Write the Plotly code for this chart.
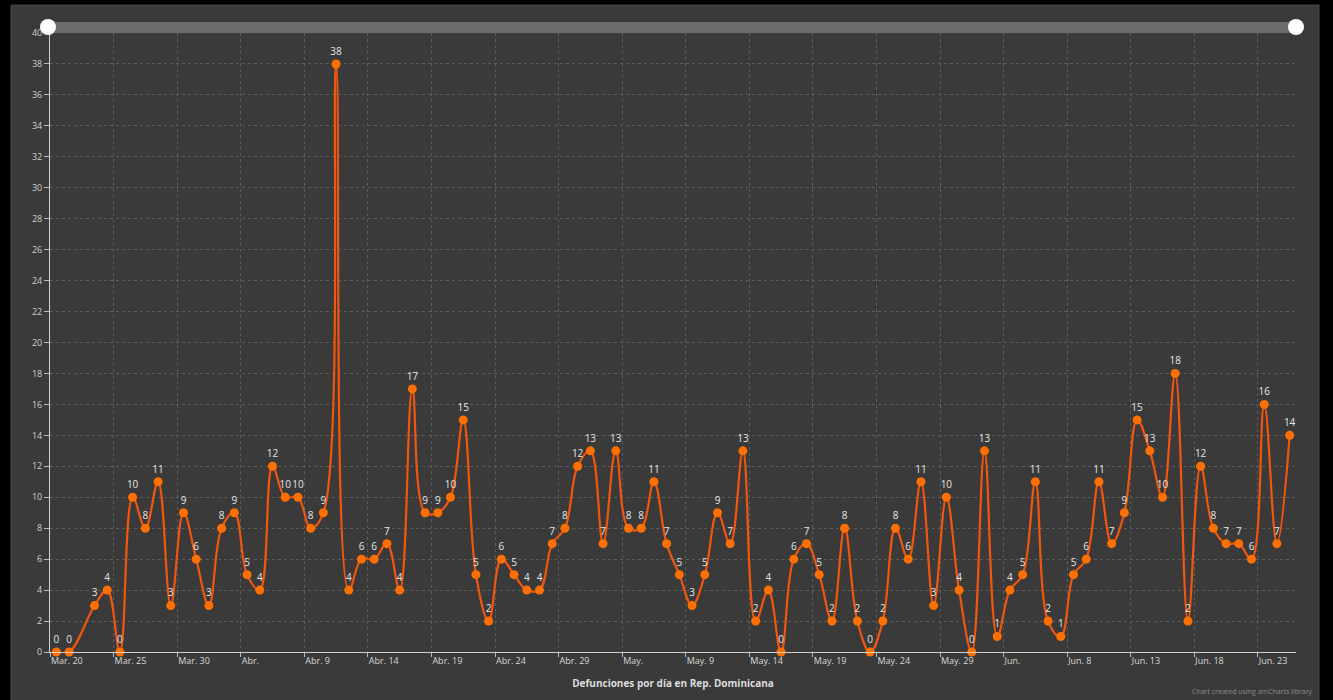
import pandas as pd
import plotly.graph_objects as go

# ---- data ----
start_date = "2020-03-20"
end_date = "2020-06-25"
missing_dates = ["2020-03-22"]
dates = [d for d in pd.date_range(start_date, end_date) if d.strftime("%Y-%m-%d") not in missing_dates]

deaths = [
    0, 0, 3, 4, 0, 10, 8, 11, 3, 9, 6, 3,            # Mar 20-31 (no Mar 22)
    8, 9, 5, 4, 12, 10, 10, 8, 9, 38,                # Apr 1-11
    4, 6, 6, 7, 4, 17, 9, 9, 10, 15,                 # Apr 12-21
    5, 2, 6, 5, 4, 4, 7, 8, 12,                      # Apr 22-30
    13, 7, 13, 8, 8, 11, 7, 5, 3, 5,                 # May 1-10
    9, 7, 13, 2, 4, 0, 6, 7, 5, 2,                   # May 11-20
    8, 2, 0, 2, 8, 6, 11, 3, 10, 4, 0,               # May 21-31
    13, 1, 4, 5, 11, 2, 1, 5, 6, 11,                 # Jun 1-10
    7, 9, 15, 13, 10, 18, 2, 12, 8, 7,               # Jun 11-20
    7, 6, 16, 7, 14,                                 # Jun 21-25
]

tick_dates = ["2020-03-20", "2020-03-25", "2020-03-30", "2020-04-04", "2020-04-09",
              "2020-04-14", "2020-04-19", "2020-04-24", "2020-04-29", "2020-05-04",
              "2020-05-09", "2020-05-14", "2020-05-19", "2020-05-24", "2020-05-29",
              "2020-06-03", "2020-06-08", "2020-06-13", "2020-06-18", "2020-06-23"]
tick_labels = ["Mar. 20", "Mar. 25", "Mar. 30", "Abr.", "Abr. 9",
               "Abr. 14", "Abr. 19", "Abr. 24", "Abr. 29", "May.",
               "May. 9", "May. 14", "May. 19", "May. 24", "May. 29",
               "Jun.", "Jun. 8", "Jun. 13", "Jun. 18", "Jun. 23"]

y_ticks = list(range(0, 41, 2))
x_title = "Defunciones por día en Rep. Dominicana"

# ---- layout geometry (pixels) ----
W, H = 1333, 700
L, R, T, B = 50, 1296, 33, 654
pw, ph = R - L, B - T


def px(x):
    return (x - L) / pw


def py(y):
    return (B - y) / ph


BG = "#3a3a3a"
FONT = "Open Sans"

x_centers = [d + pd.Timedelta(hours=12) for d in dates]

fig = go.Figure()
fig.add_trace(go.Scatter(
    x=x_centers, y=deaths,
    mode="lines+markers+text",
    text=[str(v) for v in deaths],
    textposition="top center",
    textfont=dict(size=10, color="#e6e6e6", family=FONT),
    line=dict(color="#f0560f", width=2.2, shape="spline", smoothing=1.1),
    marker=dict(color="#ff7000", size=9),
    cliponaxis=False,
    showlegend=False,
    hoverinfo="x+y",
))

fig.update_layout(
    width=W, height=H,
    margin=dict(l=L, r=W - R, t=T, b=H - B, pad=0),
    paper_bgcolor="#000000",
    plot_bgcolor=BG,
    font=dict(family=FONT, color="#d0d0d0", size=9),
    xaxis=dict(
        type="date",
        range=["2020-03-20", "2020-06-26"],
        tickvals=tick_dates,
        ticktext=tick_labels,
        ticklabelposition="outside right",
        ticks="outside", ticklen=4, tickcolor="#bbbbbb",
        tickfont=dict(size=9, color="#d8d8d8", family=FONT),
        showgrid=True, gridcolor="#5c5c5c", griddash="3px,3px", gridwidth=1,
        showline=True, linecolor="#d0d0d0", linewidth=1,
        zeroline=False,
        title=dict(text=x_title, standoff=14,
                   font=dict(size=10, color="#dcdcdc", family=FONT, weight="bold")),
    ),
    yaxis=dict(
        range=[0, 40],
        tickvals=y_ticks,
        ticks="outside", ticklen=5, tickcolor="#bbbbbb",
        tickfont=dict(size=9, color="#cfcfcf", family=FONT),
        showgrid=True, gridcolor="#5c5c5c", griddash="3px,3px", gridwidth=1,
        showline=True, linecolor="#d0d0d0", linewidth=1,
        zeroline=False,
    ),
    shapes=[
        # gray panel
        dict(type="rect", xref="paper", yref="paper", layer="below",
             x0=px(11), x1=px(1319), y0=py(5), y1=py(705),
             fillcolor=BG, line=dict(color="#4a4a4a", width=1)),
        # scrollbar track
        dict(type="rect", xref="paper", yref="paper", layer="above",
             x0=px(48), x1=px(1296), y0=py(33), y1=py(22),
             fillcolor="#6b6b6b", line=dict(width=0)),
        # y-axis line continuation to scrollbar grip
        dict(type="line", xref="paper", yref="paper", layer="above",
             x0=px(49.5), x1=px(49.5), y0=py(33), y1=py(27),
             line=dict(color="#d0d0d0", width=1)),
        # scrollbar grips
        dict(type="circle", xref="paper", yref="paper", layer="above",
             xsizemode="pixel", ysizemode="pixel",
             xanchor=px(48), yanchor=py(27), x0=-8, x1=8, y0=-8, y1=8,
             fillcolor="#ffffff", line=dict(width=0)),
        dict(type="circle", xref="paper", yref="paper", layer="above",
             xsizemode="pixel", ysizemode="pixel",
             xanchor=px(1296), yanchor=py(27), x0=-8, x1=8, y0=-8, y1=8,
             fillcolor="#ffffff", line=dict(width=0)),
    ],
    annotations=[
        dict(text="Chart created using amCharts library", xref="paper", yref="paper",
             x=px(1315), y=py(700), xanchor="right", yanchor="bottom",
             showarrow=False, font=dict(size=7, color="#8a8a8a", family=FONT)),
    ],
)

fig.write_html(
    "out.html",
    config={"displayModeBar": False},
    post_script="document.body.style.margin='0';document.body.style.background='#000';",
)
